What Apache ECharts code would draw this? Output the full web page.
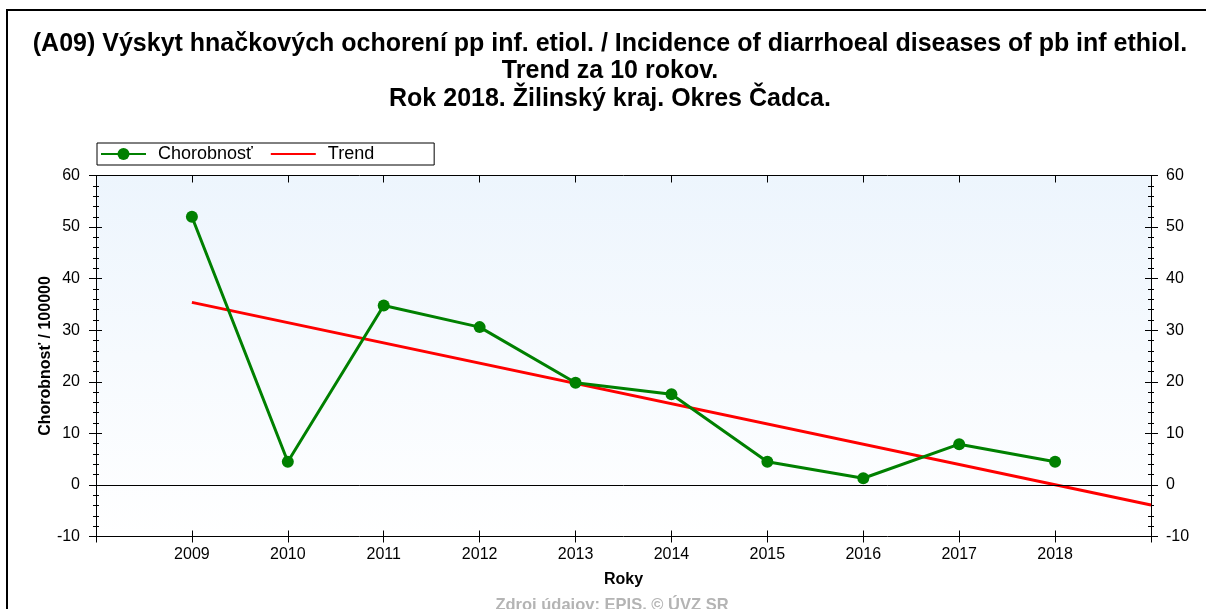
<!DOCTYPE html>
<html>
<head>
<meta charset="utf-8">
<script src="https://cdn.jsdelivr.net/npm/echarts@6.0.0/dist/echarts.min.js"></script>
<style>
html,body{margin:0;padding:0;background:#fff;}
#main{width:1206px;height:609px;}
</style>
</head>
<body>
<div id="main"></div>
<script>
var titleText = '(A09) Výskyt hnačkových ochorení pp inf. etiol. / Incidence of diarrhoeal diseases of pb inf ethiol.\nTrend za 10 rokov.\nRok 2018. Žilinský kraj. Okres Čadca.';
var footerText = 'Zdroj údajov: EPIS, © ÚVZ SR';
var years = [2009, 2010, 2011, 2012, 2013, 2014, 2015, 2016, 2017, 2018];
var incidence = [52.0, 4.5, 34.8, 30.6, 19.8, 17.6, 4.5, 1.3, 7.9, 4.5];
var trendYears = [2009, 2019];
var trendValues = [35.4, -3.9];
var yMin = -10, yMax = 60, yStep = 10;
var xMin = 2008, xMax = 2019;

var FONT = '"Liberation Sans", Arial, sans-serif';
var chart = echarts.init(document.getElementById('main'));

function pairs(xs, ys) { return xs.map(function (x, i) { return [x, ys[i]]; }); }

var yBase = { type: 'value', min: yMin, max: yMax, interval: yStep, splitLine: { show: false } };
var xBase = { type: 'value', min: xMin, max: xMax, interval: 1, splitLine: { show: false } };
var lineBlack = { show: true, onZero: false, lineStyle: { color: '#000', width: 1 } };
var lineHidden = { show: false, onZero: false };
var labelFmt = function (v) { return (v === xMin || v === xMax) ? '' : String(v); };

chart.setOption({
  animation: false,
  backgroundColor: '#fff',
  title: [{
    text: titleText,
    left: 610,
    textAlign: 'center',
    top: 30,
    padding: 0,
    textStyle: { fontFamily: FONT, fontWeight: 'bold', fontSize: 25, lineHeight: 27.5, color: '#000' }
  }, {
    text: footerText,
    left: 612,
    textAlign: 'center',
    top: 597,
    padding: 0,
    textStyle: { fontFamily: FONT, fontWeight: 'bold', fontSize: 16.5, color: '#b4b4b4' }
  }],
  legend: {
    left: 97, top: 143,
    orient: 'horizontal',
    borderColor: '#000', borderWidth: 1,
    padding: [2, 60, 2, 3],
    itemWidth: 45, itemHeight: 15, itemGap: 17,
    textStyle: { fontFamily: FONT, fontSize: 18, color: '#000', padding: [0, 0, 0, 7] },
    data: [{ name: 'Chorobnosť' }, { name: 'Trend', itemStyle: { opacity: 0 } }]
  },
  grid: {
    left: 96, right: 55, top: 175.5, bottom: 72.5,
    show: true, borderWidth: 0,
    outerBoundsMode: 'none',
    backgroundColor: new echarts.graphic.LinearGradient(0, 0, 0, 1, [
      { offset: 0, color: '#edf5fd' }, { offset: 1, color: '#ffffff' }
    ])
  },
  xAxis: [
    Object.assign({}, xBase, {
      position: 'bottom',
      axisLine: lineBlack,
      axisTick: { show: true, inside: false, length: 6, lineStyle: { color: '#000' } },
      axisLabel: { show: true, formatter: labelFmt, margin: 10, fontFamily: FONT, fontSize: 16, color: '#000' },
      name: 'Roky', nameLocation: 'middle', nameGap: 35, nameMoveOverlap: false,
      nameTextStyle: { fontFamily: FONT, fontWeight: 'bold', fontSize: 16, color: '#000' }
    }),
    Object.assign({}, xBase, {
      position: 'bottom',
      axisLine: lineHidden,
      axisTick: { show: true, inside: true, length: 6, lineStyle: { color: '#000' } },
      axisLabel: { show: false }
    }),
    Object.assign({}, xBase, {
      position: 'top',
      axisLine: lineBlack,
      axisTick: { show: true, inside: true, length: 7, lineStyle: { color: '#000' } },
      axisLabel: { show: false }
    })
  ],
  yAxis: [
    Object.assign({}, yBase, {
      position: 'left',
      axisLine: lineBlack,
      axisTick: { show: true, inside: false, length: 7, lineStyle: { color: '#000' } },
      minorTick: { show: true, splitNumber: 5, length: 3, lineStyle: { color: '#000' } },
      axisLabel: { show: true, margin: 16, fontFamily: FONT, fontSize: 16, color: '#000' },
      name: 'Chorobnosť / 100000', nameLocation: 'middle', nameGap: 42, nameRotate: 90, nameMoveOverlap: false,
      nameTextStyle: { fontFamily: FONT, fontWeight: 'bold', fontSize: 16, color: '#000' }
    }),
    Object.assign({}, yBase, {
      position: 'left',
      axisLine: lineHidden,
      axisTick: { show: true, inside: true, length: 6, lineStyle: { color: '#000' } },
      minorTick: { show: true, splitNumber: 5, length: 3, lineStyle: { color: '#000' } },
      axisLabel: { show: false }
    }),
    Object.assign({}, yBase, {
      position: 'right',
      axisLine: lineBlack,
      axisTick: { show: true, inside: false, length: 7, lineStyle: { color: '#000' } },
      minorTick: { show: true, splitNumber: 5, length: 3, lineStyle: { color: '#000' } },
      axisLabel: { show: true, margin: 15, fontFamily: FONT, fontSize: 16, color: '#000' }
    }),
    Object.assign({}, yBase, {
      position: 'right',
      axisLine: lineHidden,
      axisTick: { show: true, inside: true, length: 6, lineStyle: { color: '#000' } },
      minorTick: { show: true, splitNumber: 5, length: 3, lineStyle: { color: '#000' } },
      axisLabel: { show: false }
    })
  ],
  graphic: [{
    type: 'polyline',
    silent: true,
    shape: { points: [[7, 609], [7, 10], [1206, 10]] },
    style: { stroke: '#000', lineWidth: 2, fill: null }
  }],
  series: [{
    name: 'Trend',
    type: 'line',
    xAxisIndex: 0, yAxisIndex: 0,
    data: pairs(trendYears, trendValues),
    symbol: 'none',
    color: '#ff0000',
    lineStyle: { color: '#ff0000', width: 3 },
    z: 3,
    markLine: {
      silent: true, symbol: 'none', label: { show: false },
      lineStyle: { color: '#000', width: 1, type: 'solid' },
      data: [{ yAxis: 0 }]
    }
  }, {
    name: 'Chorobnosť',
    type: 'line',
    xAxisIndex: 0, yAxisIndex: 0,
    data: pairs(years, incidence),
    symbol: 'circle', symbolSize: 12,
    color: '#008000',
    itemStyle: { color: '#008000' },
    lineStyle: { color: '#008000', width: 3 },
    z: 4
  }]
});
</script>
</body>
</html>
